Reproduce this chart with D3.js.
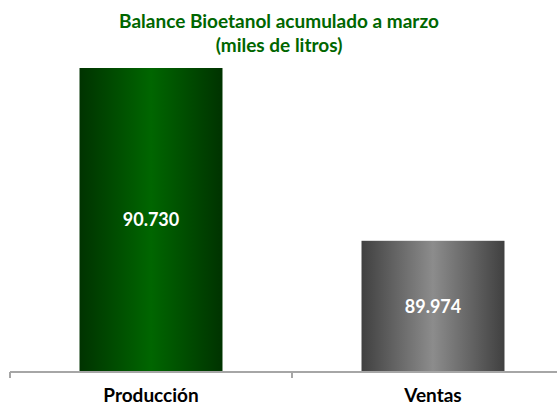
<!DOCTYPE html>
<html lang="es">
<head>
    <meta charset="UTF-8">
    <title>Balance Bioetanol</title>
    <script src="https://d3js.org/d3.v7.min.js"></script>
    <style>
        body { margin: 0; background: white; }
        text { font-family: Lato, "Open Sans", sans-serif; font-weight: bold; }
    </style>
</head>
<body>
<svg id="main" width="557" height="407"></svg>
<script>
    // data
    let categories = ["Producción", "Ventas"];
    let values = [90730, 89974];
    let valueLabels = ["90.730", "89.974"];
    let titleLines = ["Balance Bioetanol acumulado a marzo", "(miles de litros)"];
    let axisMin = 89400;

    let svg = d3.select('svg#main');
    let defs = svg.append('defs');

    // horizontal gradients, dark edges and light middle
    let gradStops = [
        ["gradGreen", "#003300", "#006600"],
        ["gradGray", "#404040", "#8c8c8c"]
    ];
    gradStops.forEach(function (g) {
        let lg = defs.append('linearGradient').attr('id', g[0])
            .attr('x1', '0%').attr('x2', '100%').attr('y1', '0%').attr('y2', '0%');
        lg.append('stop').attr('offset', '0%').attr('stop-color', g[1]);
        lg.append('stop').attr('offset', '50%').attr('stop-color', g[2]);
        lg.append('stop').attr('offset', '100%').attr('stop-color', g[1]);
    });

    let x = d3.scaleBand().domain(categories).range([10, 574]).paddingInner(0).paddingOuter(0);
    let y = d3.scaleLinear().domain([axisMin, d3.max(values)]).range([372, 68]);
    let barW = x.bandwidth() * 0.507;

    // title
    svg.append('g').selectAll('text')
        .data(titleLines)
        .enter().append('text')
        .attr('x', 279)
        .attr('y', function (d, i) { return 28 + i * 24; })
        .attr('text-anchor', 'middle')
        .style('font-size', '19px')
        .style('fill', '#006600')
        .text(function (d) { return d; });

    // bars
    svg.append('g').selectAll('rect')
        .data(values)
        .enter().append('rect')
        .attr('x', function (d, i) { return x(categories[i]) + (x.bandwidth() - barW) / 2; })
        .attr('y', function (d) { return y(d); })
        .attr('width', barW)
        .attr('height', function (d) { return y(axisMin) - y(d); })
        .style('fill', function (d, i) { return i === 0 ? 'url(#gradGreen)' : 'url(#gradGray)'; });

    // value labels
    svg.append('g').selectAll('text')
        .data(values)
        .enter().append('text')
        .attr('x', function (d, i) { return x(categories[i]) + x.bandwidth() / 2; })
        .attr('y', function (d) { return (y(d) + y(axisMin)) / 2; })
        .attr('dy', '0.35em')
        .attr('text-anchor', 'middle')
        .style('font-size', '18px')
        .style('fill', 'white')
        .text(function (d, i) { return valueLabels[i]; });

    // x axis
    let xAxis = svg.append('g')
        .attr('transform', 'translate(0,' + y(axisMin) + ')')
        .call(d3.axisBottom(x).tickSize(0).tickPadding(0));
    xAxis.select('.domain').remove();
    xAxis.selectAll('text').remove();
    xAxis.append('line')
        .attr('x1', 10).attr('x2', 574).attr('y1', 0).attr('y2', 0)
        .style('stroke', '#a6a6a6').style('stroke-width', 2);
    xAxis.selectAll('line.sep')
        .data(categories)
        .enter().append('line')
        .attr('class', 'sep')
        .attr('x1', function (d) { return x(d); })
        .attr('x2', function (d) { return x(d); })
        .attr('y1', 0).attr('y2', 6)
        .style('stroke', '#a6a6a6').style('stroke-width', 2);
    xAxis.selectAll('text.cat')
        .data(categories)
        .enter().append('text')
        .attr('class', 'cat')
        .attr('x', function (d) { return x(d) + x.bandwidth() / 2; })
        .attr('y', 30)
        .attr('text-anchor', 'middle')
        .style('font-size', '19px')
        .style('fill', 'black')
        .text(function (d) { return d; });
</script>
</body>
</html>
